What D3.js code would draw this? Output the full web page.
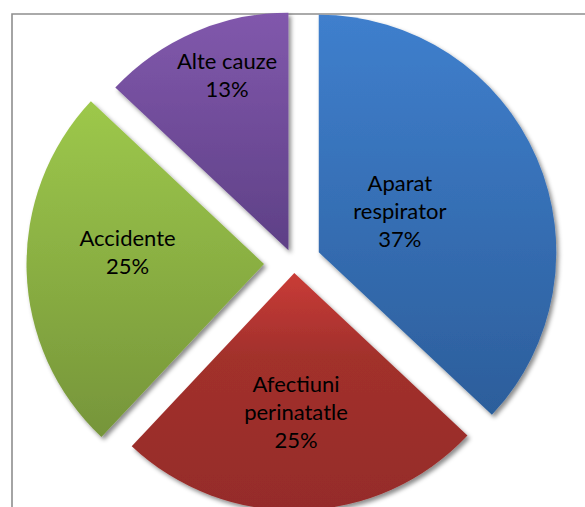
<!DOCTYPE html>
<html>
<head>
<meta charset="utf-8">
<script src="https://cdn.jsdelivr.net/npm/d3@7"></script>
<style>
  html, body { margin: 0; padding: 0; background: #ffffff; }
  svg { display: block; }
</style>
</head>
<body>
<svg id="chart" width="585" height="507"></svg>
<script>
// Causes of death, share of total (%)
const categories = ["Aparat respirator", "Afectiuni perinatatle", "Accidente", "Alte cauze"];
const labelLines = [["Aparat", "respirator"], ["Afectiuni", "perinatatle"], ["Accidente"], ["Alte cauze"]];
const percentValues = [37, 25, 25, 13];

// Slice look: gradient stops, explosion distance, label placement (distance, angle shift in degrees)
const sliceStops = [
  [["0%", "#3f7fcd"], ["100%", "#2c5e9b"]],
  [["0%", "#c93c37"], ["35%", "#a2302c"], ["100%", "#952c29"]],
  [["0%", "#9dc84b"], ["100%", "#76953a"]],
  [["0%", "#8158ac"], ["100%", "#5e4086"]]
];
const explode    = [27, 10, 30, 14];
const labelDist  = [91, 139, 137, 185];
const labelShift = [-3.6, 1.1, 6.8, 4];

const W = 585, H = 507;
const cx = 294, cy = 263, R = 237.5;
const lineH = 28;

const svg = d3.select("#chart");
const defs = svg.append("defs");

// soft drop shadow under every slice
const shadow = defs.append("filter").attr("id", "shadow")
  .attr("x", "-10%").attr("y", "-10%").attr("width", "125%").attr("height", "125%");
shadow.append("feDropShadow")
  .attr("dx", 2.5).attr("dy", 3).attr("stdDeviation", 2.2)
  .attr("flood-color", "#000").attr("flood-opacity", 0.45);

categories.forEach((c, i) => {
  const g = defs.append("linearGradient").attr("id", "grad" + i)
    .attr("x1", 0).attr("y1", 0).attr("x2", 0).attr("y2", 1);
  sliceStops[i].forEach(s => g.append("stop").attr("offset", s[0]).attr("stop-color", s[1]));
});

// chart frame
svg.append("path")
  .attr("d", `M12,${H + 5} L12,14 L${W + 5},14`)
  .attr("fill", "none").attr("stroke", "#8e8e8e").attr("stroke-width", 1.6);

const pie = d3.pie().sort(null).value(d => d)(percentValues);
const arc = d3.arc().innerRadius(0).outerRadius(R);

const slices = svg.selectAll("g.slice").data(pie).enter().append("g")
  .attr("class", "slice")
  .attr("transform", (d, i) => {
    const mid = (d.startAngle + d.endAngle) / 2;
    return `translate(${cx + explode[i] * Math.sin(mid)},${cy - explode[i] * Math.cos(mid)})`;
  });

slices.append("path")
  .attr("d", arc)
  .attr("fill", (d, i) => `url(#grad${i})`)
  .attr("filter", "url(#shadow)");

// data labels: category name lines + percentage
slices.each(function (d, i) {
  const a = (d.startAngle + d.endAngle) / 2 + labelShift[i] * Math.PI / 180;
  const lx = labelDist[i] * Math.sin(a);
  const ly = -labelDist[i] * Math.cos(a);
  const lines = labelLines[i].concat([d3.format("d")(d.data) + "%"]);
  const t = d3.select(this).append("text")
    .attr("text-anchor", "middle")
    .attr("font-family", "Lato, 'Open Sans', sans-serif")
    .attr("font-size", 22)
    .attr("fill", "#000");
  lines.forEach((s, k) => {
    t.append("tspan")
      .attr("x", lx)
      .attr("y", ly + (k - (lines.length - 1) / 2) * lineH)
      .attr("dy", "0.35em")
      .text(s);
  });
});
</script>
</body>
</html>
